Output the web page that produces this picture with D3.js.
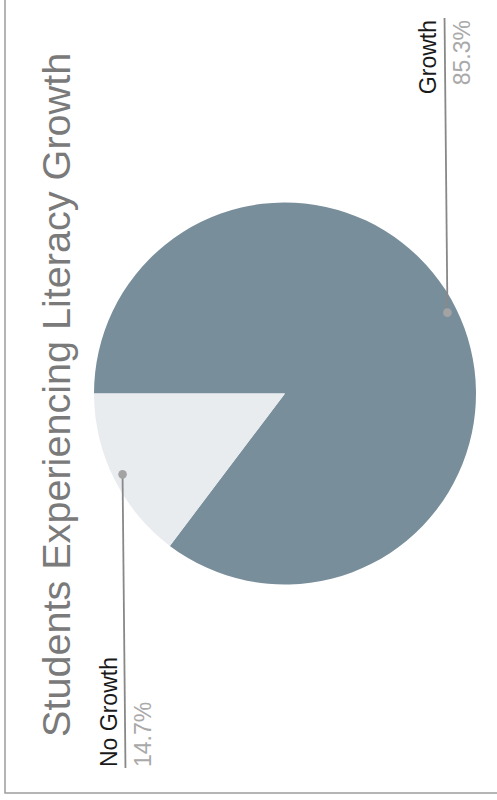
<!DOCTYPE html>
<html>
<head>
<meta charset="utf-8">
<script src="https://cdn.jsdelivr.net/npm/d3@7"></script>
<style>
  html, body { margin: 0; padding: 0; background: #fff; }
  svg { display: block; }
  text { font-family: "Liberation Sans", Arial, Helvetica, sans-serif; }
</style>
</head>
<body>
<script>
const title = "Students Experiencing Literacy Growth";
const categories = ["Growth", "No Growth"];
const values = [85.3, 14.7];
const colors = ["#798e9b", "#e9ecef"];

const W = 497, H = 800;
// chart is drawn in its own (unrotated) frame of 800 x 497, then rotated -90deg
const OW = 800, OH = 497;
const cx = 406.5, cy = 285, R = 191;

const svg = d3.select("body").append("svg")
  .attr("width", W).attr("height", H);

const g = svg.append("g").attr("transform", `translate(0,${H}) rotate(-90)`);

// frame border
g.append("rect")
  .attr("x", 7).attr("y", 5)
  .attr("width", OW + 50).attr("height", OH + 50)
  .attr("fill", "none").attr("stroke", "#9c9c9c").attr("stroke-width", 1.5);

// title
g.append("text")
  .attr("x", 63).attr("y", 70)
  .attr("font-size", 39.6)
  .attr("fill", "#7a7a7a")
  .text(title);

const data = categories.map((c, i) => ({ name: c, value: values[i], color: colors[i] }));
const pie = d3.pie().value(d => d.value).sort(null);
const arcs = pie(data);
const arc = d3.arc().innerRadius(0).outerRadius(R);

const pg = g.append("g").attr("transform", `translate(${cx},${cy})`);
pg.selectAll("path.slice").data(arcs).join("path")
  .attr("class", "slice")
  .attr("d", arc)
  .attr("fill", d => d.data.color);

// leader lines & labels
const dotArc = d3.arc().innerRadius(R * 0.95).outerRadius(R * 0.95);
const labelArc = d3.arc().innerRadius(R * 0.933).outerRadius(R * 0.933);
const leftX = 32 - cx, rightX = 782 - cx;

arcs.forEach(d => {
  const [dx, dy] = dotArc.centroid(d);
  const [, ly] = labelArc.centroid(d);
  const right = dx > 0;
  const ex = right ? rightX : leftX;
  pg.append("line")
    .attr("x1", dx).attr("y1", dy)
    .attr("x2", ex).attr("y2", ly)
    .attr("stroke", "#888").attr("stroke-width", 1.8);
  pg.append("circle")
    .attr("cx", dx).attr("cy", dy).attr("r", 4.3)
    .attr("fill", "#a3a3a3");
  const anchor = right ? "end" : "start";
  const tx = right ? ex - 2 : ex + 1;
  pg.append("text")
    .attr("x", tx).attr("y", ly - 8.5)
    .attr("text-anchor", anchor)
    .attr("font-size", 23)
    .attr("fill", "#1a1a1a")
    .text(d.data.name);
  pg.append("text")
    .attr("x", tx).attr("y", ly + 25.5)
    .attr("text-anchor", anchor)
    .attr("font-size", 23)
    .attr("fill", "#a9a9a9")
    .text(d3.format(".1f")(d.data.value) + "%");
});
</script>
</body>
</html>
